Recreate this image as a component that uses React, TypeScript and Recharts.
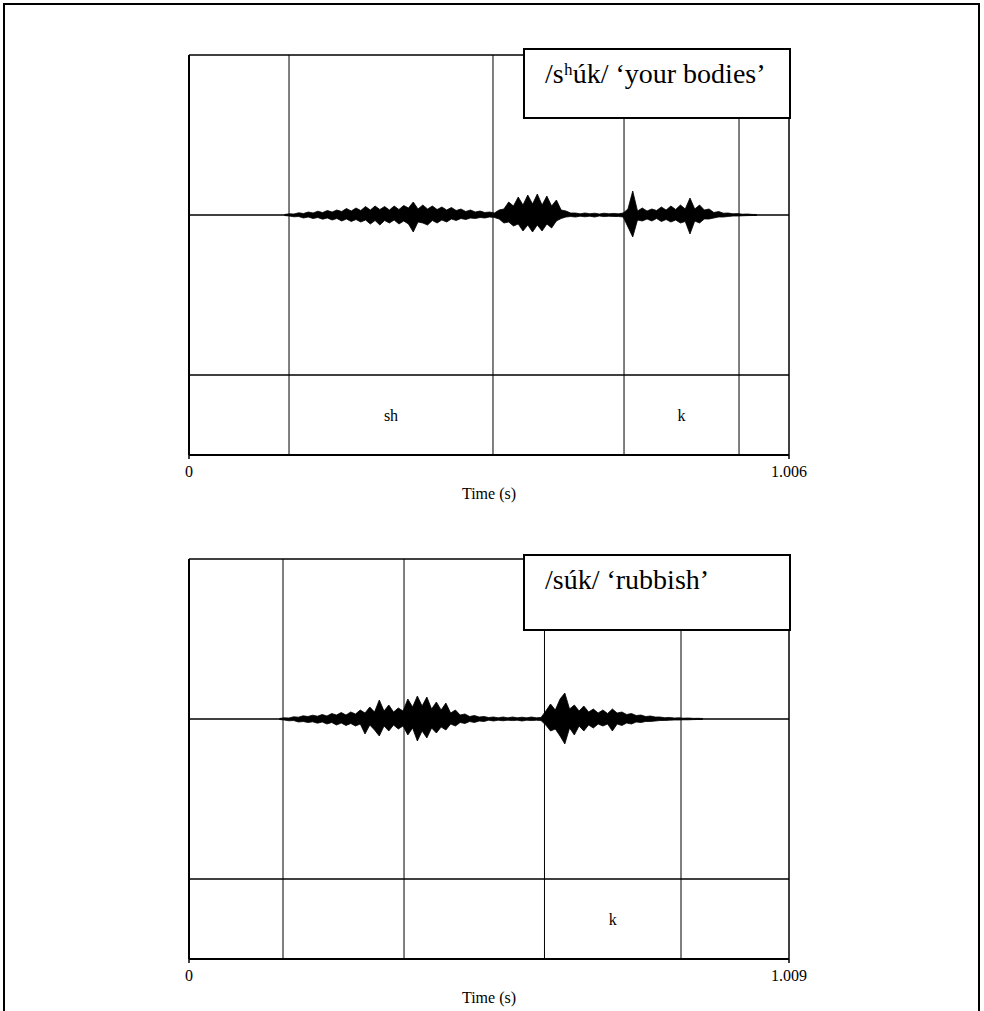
import { ComposedChart, Area, XAxis, YAxis, ReferenceLine, ReferenceArea } from 'recharts'

const SERIF = '"Liberation Serif", "Times New Roman", serif'

// sampling grid of the waveform envelopes (s)
const SAMPLE_STEP = 0.008

// panel 1: /sʰúk/ 'your bodies'
const TITLE_1 = '/sʰúk/ ‘your bodies’'
const T_MAX_1 = 1.006
const BOUNDS_1 = [0.1677, 0.5097, 0.7294, 0.9222]
const SEGMENTS_1 = [
  { from: 0.1677, to: 0.5097, text: 'sh' },
  { from: 0.7294, to: 0.9222, text: 'k' },
]
const WAVE_T0_1 = 0.16
const UPPER_1 = [
  0.5, 1.2, 1, 2.2, 1.5, 3, 2, 3.8, 2.4, 4.5,
  3, 5, 3.5, 6.5, 4, 7, 4.5, 8.5, 5, 9,
  5.5, 8.5, 5, 9, 5.5, 9.5, 7, 13, 6, 10,
  6, 9, 5.5, 8, 5, 7.5, 4.5, 6, 3.5, 5,
  3, 4, 2.5, 3, 2, 5, 6, 13, 9, 18,
  10, 20, 11, 21, 10, 19, 9, 15, 5, 4,
  2, 2, 1.2, 2, 1.2, 1.8, 1, 1.8, 1.2, 1.6,
  1.2, 2, 6, 24, 4, 7, 4, 6, 4.5, 8,
  5, 9, 5.5, 10, 6, 17, 6, 10, 5, 6,
  2.5, 3.5, 1.8, 2, 1.2, 1.4, 0.8, 1, 0.6, 0.5,
]
const LOWER_1 = [
  0.5, 1, 1.8, 1.5, 3, 2, 3.5, 2.5, 4.2, 3,
  5, 3.5, 6, 4, 6.5, 4.5, 7, 5, 9, 5.5,
  10, 5.5, 8, 5, 9, 6, 9, 17, 7, 8,
  10, 5.5, 8, 5, 7, 4, 5.5, 3.5, 4.5, 3,
  3.5, 2.5, 3, 2, 2.5, 4, 8, 7, 11, 9,
  16, 10, 17, 10, 16, 9, 13, 6, 3.5, 2,
  1.5, 2, 1.2, 1.8, 1.2, 2, 1, 1.6, 1.2, 1.5,
  1.5, 2, 12, 22, 5, 6, 4, 6, 3.5, 6.5,
  4.5, 7, 5, 8, 6.5, 19, 6, 8, 4, 4,
  3, 2, 2, 1.5, 1, 1, 0.8, 0.6, 0.5, 0.5,
]

// panel 2: /súk/ 'rubbish'
const TITLE_2 = '/súk/ ‘rubbish’'
const T_MAX_2 = 1.009
const BOUNDS_2 = [0.1581, 0.3616, 0.5978, 0.8274]
const SEGMENTS_2 = [{ from: 0.5978, to: 0.8274, text: 'k' }]
const WAVE_T0_2 = 0.152
const UPPER_2 = [
  0.5, 1.2, 1, 2.2, 1.8, 3.2, 2.5, 3.8, 2.8, 4.5,
  3, 5.5, 4, 6.5, 4, 7, 5, 9, 6, 12,
  7, 19, 8, 14, 7, 11, 8, 20, 12, 23,
  13, 22, 10, 17, 9, 16, 6, 9, 4, 5,
  2.5, 3.5, 2, 2.5, 1.5, 2, 1.2, 2, 1.2, 2,
  1.2, 1.8, 1.2, 2, 1.2, 1.6, 8, 15, 9, 20,
  26, 10, 14, 8, 13, 7, 10, 6, 9, 5.5,
  10, 6, 7, 4.5, 5.5, 3.5, 4, 2.5, 3, 2,
  2, 1.3, 1.6, 1, 1.2, 0.8, 1, 0.6, 0.7, 0.5,
]
const LOWER_2 = [
  0.5, 1, 1.8, 1.5, 3, 2.5, 3.5, 2.8, 4.2, 3,
  5, 3.5, 6, 4, 6.5, 4.5, 7, 5, 15, 6,
  11, 17, 7, 12, 6, 10, 7, 16, 9, 22,
  12, 19, 9, 14, 8, 11, 5, 7, 3.5, 4.5,
  2.5, 3.5, 2, 2.5, 1.2, 2, 1.2, 1.8, 1.2, 1.6,
  1.2, 2, 1.2, 1.6, 1.2, 1.6, 6, 12, 10, 17,
  25, 9, 16, 7, 12, 6, 9, 5, 7, 5,
  12, 5, 6.5, 4, 5, 3, 3.5, 2.5, 2.5, 2,
  1.5, 1.5, 1.2, 1, 1, 0.8, 0.8, 0.6, 0.5, 0.5,
]

function buildWave(t0: number, upper: number[], lower: number[]) {
  return upper.map((u, i) => ({
    t: +(t0 + i * SAMPLE_STEP).toFixed(4),
    range: [-lower[i], u],
  }))
}

interface Segment {
  from: number
  to: number
  text: string
}

interface PanelProps {
  top: number
  title: string
  boxTop: number
  boxHeight: number
  tMax: number
  bounds: number[]
  segments: Segment[]
  wave: { t: number; range: number[] }[]
}

function WavePanel({ top, title, boxTop, boxHeight, tMax, bounds, segments, wave }: PanelProps) {
  const txt = { fill: '#000', fontSize: 16, fontFamily: SERIF }
  return (
    <div style={{ position: 'absolute', left: 0, top, width: 984, height: 510 }}>
      <ComposedChart
        width={984}
        height={510}
        data={wave}
        margin={{ top: 55, right: 195, bottom: 11, left: 189 }}
      >
        <XAxis
          type="number"
          dataKey="t"
          domain={[0, tMax]}
          ticks={[0, tMax]}
          tickFormatter={(v: number) => (v === 0 ? '0' : v.toFixed(3))}
          axisLine={{ stroke: '#000', strokeWidth: 2 }}
          tickLine={{ stroke: '#000', strokeWidth: 1.5 }}
          tickSize={4}
          tickMargin={7}
          tick={txt}
          height={44}
          label={{ value: 'Time (s)', position: 'insideBottom', offset: 0, ...txt }}
        />
        <YAxis hide type="number" domain={[-240, 160]} />
        <ReferenceLine y={0} stroke="#000" strokeWidth={1.5} />
        <ReferenceLine y={-160} stroke="#000" strokeWidth={1.5} />
        <ReferenceLine y={160} stroke="#000" strokeWidth={1.5} />
        <ReferenceLine x={0} stroke="#000" strokeWidth={2} />
        <ReferenceLine x={tMax} stroke="#000" strokeWidth={1.5} />
        {bounds.map((b) => (
          <ReferenceLine key={b} x={b} stroke="#000" strokeWidth={1} />
        ))}
        {segments.map((s) => (
          <ReferenceArea
            key={s.text + s.from}
            x1={s.from}
            x2={s.to}
            y1={-240}
            y2={-160}
            fill="none"
            stroke="none"
            label={{ value: s.text, position: 'center', ...txt }}
          />
        ))}
        <Area
          type="linear"
          dataKey="range"
          stroke="#000"
          strokeWidth={0.8}
          fill="#000"
          fillOpacity={1}
          dot={false}
          activeDot={false}
          isAnimationActive={false}
        />
      </ComposedChart>
      <div
        style={{
          position: 'absolute',
          left: 523,
          top: boxTop,
          width: 268,
          height: boxHeight,
          boxSizing: 'border-box',
          border: '2px solid #000',
          background: '#fff',
        }}
      >
        <span
          style={{
            position: 'absolute',
            left: 20,
            top: 10,
            fontFamily: SERIF,
            fontSize: 28,
            lineHeight: 1,
            whiteSpace: 'nowrap',
            color: '#000',
          }}
        >
          {title}
        </span>
      </div>
    </div>
  )
}

export default function App() {
  return (
    <div
      style={{
        position: 'absolute',
        left: 0,
        top: 0,
        width: 984,
        height: 1011,
        overflow: 'hidden',
        background: '#fff',
      }}
    >
      <div
        style={{
          position: 'absolute',
          left: 3,
          top: 3,
          width: 977,
          height: 1030,
          boxSizing: 'border-box',
          border: '2px solid #000',
        }}
      />
      <WavePanel
        top={0}
        title={TITLE_1}
        boxTop={48}
        boxHeight={71}
        tMax={T_MAX_1}
        bounds={BOUNDS_1}
        segments={SEGMENTS_1}
        wave={buildWave(WAVE_T0_1, UPPER_1, LOWER_1)}
      />
      <WavePanel
        top={504}
        title={TITLE_2}
        boxTop={50}
        boxHeight={77}
        tMax={T_MAX_2}
        bounds={BOUNDS_2}
        segments={SEGMENTS_2}
        wave={buildWave(WAVE_T0_2, UPPER_2, LOWER_2)}
      />
    </div>
  )
}
